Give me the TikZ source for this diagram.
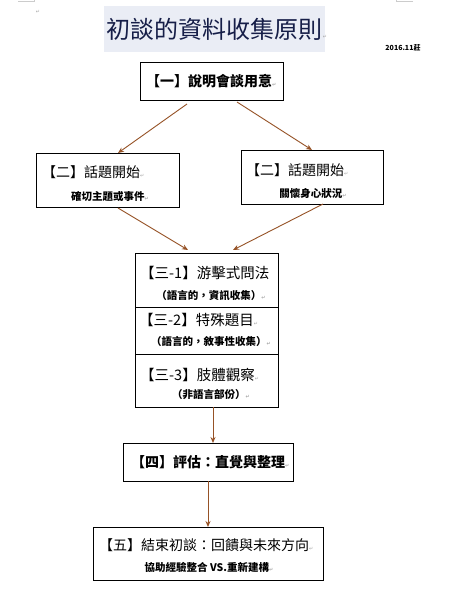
\documentclass[tikz,border=0pt]{standalone}
\usepackage{fontspec}
\usetikzlibrary{arrows.meta}
\setmainfont{Noto Sans CJK TC}
\newfontfamily\marksfont{DejaVu Sans}
\definecolor{arrowbrown}{RGB}{150,82,38}
\definecolor{titlebg}{RGB}{234,237,245}
\definecolor{titleblue}{RGB}{22,30,72}
\newcommand{\pmark}{{\color{gray!70}\marksfont\fontsize{5}{5}\selectfont ↵}}
\tikzset{
	box/.style={draw=black,line width=0.9pt,inner sep=0pt,outer sep=0pt},
	head/.style={anchor=west,inner sep=0pt,font=\fontsize{14}{15}\selectfont},
	sub/.style={inner sep=0pt,font=\bfseries\fontsize{10.5}{11}\selectfont},
	flow/.style={arrowbrown,line width=0.9pt,-{Stealth[length=6pt,width=5pt]}}
}
\begin{document}
\begin{tikzpicture}[x=1pt,y=-1pt]
		\useasboundingbox (0,0) rectangle (462,600);
		\fill[white] (0,0) rectangle (462,600);
		\draw[gray!40,line width=0.5pt] (18,1) -- (34,1) -- (34,-2);
		\draw[gray!40,line width=0.5pt] (413,1) -- (396,1) -- (396,-2);
		\node[inner sep=0pt] (pmtop) at (38,12) {\pmark};
		\fill[titlebg] (104,6) rectangle (325,52);
		\node[inner sep=0pt,text=titleblue,font=\fontsize{24}{24}\selectfont] (title) at (217,29) {初談的資料收集原則\pmark};
		\node[inner sep=0pt,font=\bfseries\fontsize{7}{7}\selectfont] (date) at (403,48) {2016.11莊};
		\node[box,minimum width=143pt,minimum height=38pt] (box1) at (211.5,81) {};
		\node[head,font=\bfseries\fontsize{14}{15}\selectfont] (text1) at (146,81) {【一】說明會談用意\pmark};
		\node[box,minimum width=143pt,minimum height=54pt] (box2l) at (107.5,180) {};
		\node[head] (text2l) at (42,172) {【二】話題開始\pmark};
		\node[sub] (sub2l) at (110,197) {確切主題或事件\pmark};
		\node[box,minimum width=142pt,minimum height=54pt] (box2r) at (312,177) {};
		\node[head] (text2r) at (246,170) {【二】話題開始\pmark};
		\node[sub] (sub2r) at (313,194) {關懷身心狀況\pmark};
		\node[box,minimum width=143pt,minimum height=54pt] (box31) at (206.5,280) {};
		\node[box,minimum width=143pt,minimum height=47pt] (box32) at (206.5,330.5) {};
		\node[box,minimum width=143pt,minimum height=53pt] (box33) at (206.5,380.5) {};
		\node[head,font=\fontsize{14.5}{15}\selectfont] (text31) at (140,273) {【三-1】游擊式問法};
		\node[sub] (sub31) at (211,296) {（語言的，資訊收集）\pmark};
		\node[head,font=\fontsize{14.5}{15}\selectfont] (text32) at (139,320) {【三-2】特殊題目\pmark};
		\node[sub] (sub32) at (211,342) {（語言的，敘事性收集）\pmark};
		\node[head,font=\fontsize{14.5}{15}\selectfont] (text33) at (140,375) {【三-3】肢體觀察\pmark};
		\node[sub] (sub33) at (211,395) {（非語言部份）\pmark};
		\node[box,minimum width=170pt,minimum height=38pt] (box4) at (208,462) {};
		\node[head,font=\bfseries\fontsize{14}{15}\selectfont] (text4) at (131,462) {【四】評估：直覺與整理\pmark};
		\node[box,minimum width=230pt,minimum height=53pt] (box5) at (208,553.5) {};
		\node[head] (text5) at (99,545) {【五】結束初談：回饋與未來方向\pmark};
		\node[sub] (sub5) at (209,567) {協助經驗整合 VS.重新建構\pmark};
		\draw[flow] ([xshift=-24.5pt,yshift=-4pt]box1.south) -- ([xshift=10.5pt]box2l.north);
		\draw[flow] ([xshift=25.5pt,yshift=-2pt]box1.south) -- (box2r.north);
		\draw[flow] ([xshift=10.5pt,yshift=-1pt]box2l.south) -- ([xshift=-18.5pt,yshift=3pt]box31.north);
		\draw[flow] ([xshift=11pt]box2r.south) -- ([xshift=26.5pt,yshift=3pt]box31.north);
		\draw[flow] ([xshift=6.5pt]box33.south) -- ([xshift=5pt]box4.north);
		\draw[flow] (box4.south) -- (box5.north);
		\end{tikzpicture}
\end{document}
